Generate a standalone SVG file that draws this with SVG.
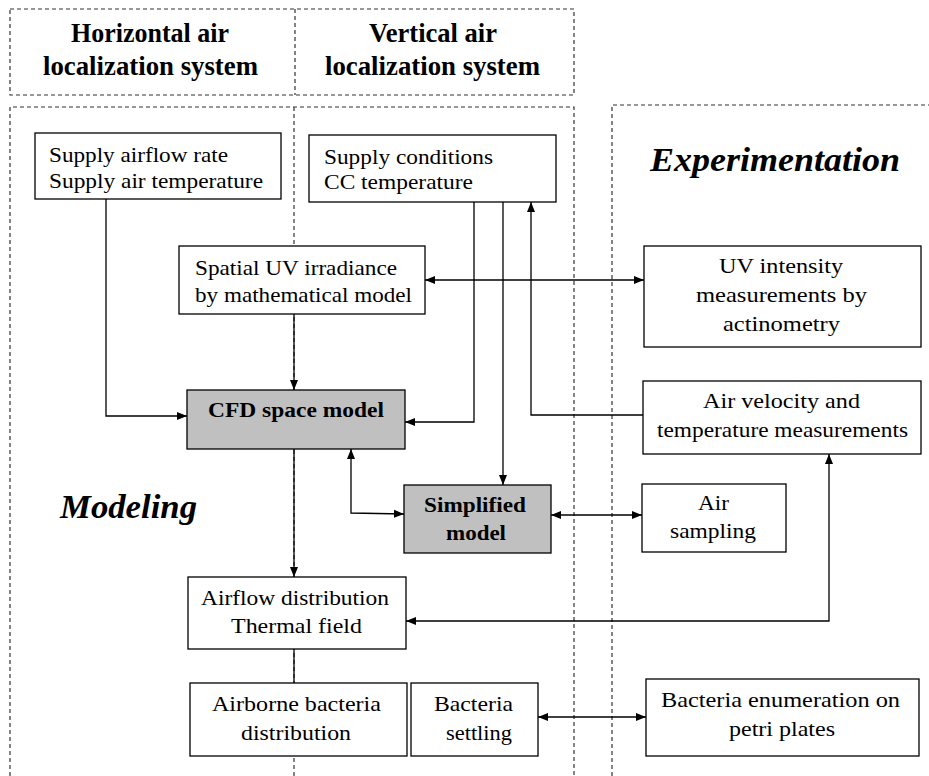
<svg xmlns="http://www.w3.org/2000/svg" width="929" height="776" viewBox="0 0 929 776">
<style>
.dash{fill:none;stroke:#333;stroke-width:1.2;stroke-dasharray:4 3}
.box{fill:#fff;stroke:#000;stroke-width:1.3}
.gbox{fill:#c0c0c0;stroke:#000;stroke-width:1.3}
.t{font-family:"Liberation Serif","Times New Roman",serif;font-size:21px;fill:#000}
.b{font-weight:bold}
.h{font-family:"Liberation Serif","Times New Roman",serif;font-size:28px;font-weight:bold;fill:#000}
.big{font-family:"Liberation Serif","Times New Roman",serif;font-size:33px;font-weight:bold;font-style:italic;fill:#000}
.ln{fill:none;stroke:#000;stroke-width:1.3}
</style>
<defs>
<marker id="ah" viewBox="0 0 10 10" refX="10" refY="5" markerWidth="10" markerHeight="10" markerUnits="userSpaceOnUse" orient="auto-start-reverse">
<path d="M0,1 L10,5 L0,9 Z" fill="#000"/>
</marker>
</defs>
<rect width="929" height="776" fill="#fff"/>
<g id="regions">
<rect class="dash" x="10" y="9" width="564" height="86"/>
<line class="dash" x1="295" y1="9" x2="295" y2="95"/>
<path class="dash" d="M10,776 V107 H574 V776"/>
<line class="dash" x1="294" y1="107" x2="294" y2="776"/>
<path class="dash" d="M612,776 V105 H929"/>
</g>
<g id="labels">
<text class="h" x="71" y="42" textLength="158" lengthAdjust="spacingAndGlyphs">Horizontal air</text>
<text class="h" x="43" y="75" textLength="215" lengthAdjust="spacingAndGlyphs">localization system</text>
<text class="h" x="369" y="42" textLength="128" lengthAdjust="spacingAndGlyphs">Vertical air</text>
<text class="h" x="325" y="75" textLength="215" lengthAdjust="spacingAndGlyphs">localization system</text>
<text class="big" x="60" y="518" textLength="137" lengthAdjust="spacingAndGlyphs">Modeling</text>
<text class="big" x="650" y="171" textLength="250" lengthAdjust="spacingAndGlyphs">Experimentation</text>
</g>
<g id="connectors">
<polyline class="ln" points="106,199 106,416 187,416" marker-end="url(#ah)"/>
<line class="ln" x1="294" y1="314" x2="294" y2="390" marker-end="url(#ah)"/>
<polyline class="ln" points="474,202 474,422 405,422" marker-end="url(#ah)"/>
<line class="ln" x1="503" y1="202" x2="503" y2="485" marker-end="url(#ah)"/>
<polyline class="ln" points="643,415 531,415 531,202" marker-end="url(#ah)"/>
<line class="ln" x1="425" y1="280" x2="644" y2="280" marker-start="url(#ah)" marker-end="url(#ah)"/>
<polyline class="ln" points="351,449 351,513 404,514" marker-start="url(#ah)" marker-end="url(#ah)"/>
<line class="ln" x1="551" y1="515" x2="642" y2="515" marker-start="url(#ah)" marker-end="url(#ah)"/>
<line class="ln" x1="294" y1="449" x2="294" y2="577" marker-end="url(#ah)"/>
<polyline class="ln" points="829,454 829,621 406,621" marker-start="url(#ah)" marker-end="url(#ah)"/>
<line class="ln" x1="294" y1="649" x2="294" y2="683"/>
<line class="ln" x1="538" y1="717" x2="646" y2="717" marker-start="url(#ah)" marker-end="url(#ah)"/>
</g>
<g id="supply-airflow">
<rect class="box" x="35" y="133" width="246" height="66"/>
<text class="t" x="49" y="162" textLength="179" lengthAdjust="spacingAndGlyphs">Supply airflow rate</text>
<text class="t" x="49" y="188" textLength="214" lengthAdjust="spacingAndGlyphs">Supply air temperature</text>
</g>
<g id="supply-conditions">
<rect class="box" x="309" y="135" width="247" height="67"/>
<text class="t" x="324" y="164" textLength="169" lengthAdjust="spacingAndGlyphs">Supply conditions</text>
<text class="t" x="324" y="189" textLength="149" lengthAdjust="spacingAndGlyphs">CC temperature</text>
</g>
<g id="spatial-uv">
<rect class="box" x="179" y="246" width="246" height="68"/>
<text class="t" x="195" y="275" textLength="202" lengthAdjust="spacingAndGlyphs">Spatial UV irradiance</text>
<text class="t" x="195" y="302" textLength="217" lengthAdjust="spacingAndGlyphs">by mathematical model</text>
</g>
<g id="uv-intensity">
<rect class="box" x="644" y="246" width="277" height="101"/>
<text class="t" x="719" y="273" textLength="124" lengthAdjust="spacingAndGlyphs">UV intensity</text>
<text class="t" x="696" y="302" textLength="171" lengthAdjust="spacingAndGlyphs">measurements by</text>
<text class="t" x="723" y="331" textLength="117" lengthAdjust="spacingAndGlyphs">actinometry</text>
</g>
<g id="air-velocity">
<rect class="box" x="643" y="381" width="278" height="73"/>
<text class="t" x="703" y="408" textLength="157" lengthAdjust="spacingAndGlyphs">Air velocity and</text>
<text class="t" x="657" y="437" textLength="251" lengthAdjust="spacingAndGlyphs">temperature measurements</text>
</g>
<g id="cfd">
<rect class="gbox" x="187" y="390" width="218" height="59"/>
<text class="t b" x="208" y="417" textLength="176" lengthAdjust="spacingAndGlyphs">CFD space model</text>
</g>
<g id="simplified">
<rect class="gbox" x="404" y="485" width="147" height="68"/>
<text class="t b" x="424" y="512" textLength="102" lengthAdjust="spacingAndGlyphs">Simplified</text>
<text class="t b" x="446" y="540" textLength="60" lengthAdjust="spacingAndGlyphs">model</text>
</g>
<g id="air-sampling">
<rect class="box" x="642" y="484" width="144" height="68"/>
<text class="t" x="698" y="510" textLength="31" lengthAdjust="spacingAndGlyphs">Air</text>
<text class="t" x="670" y="538" textLength="86" lengthAdjust="spacingAndGlyphs">sampling</text>
</g>
<g id="airflow-distribution">
<rect class="box" x="188" y="577" width="218" height="72"/>
<text class="t" x="201" y="605" textLength="188" lengthAdjust="spacingAndGlyphs">Airflow distribution</text>
<text class="t" x="231" y="633" textLength="131" lengthAdjust="spacingAndGlyphs">Thermal field</text>
</g>
<g id="airborne-bacteria">
<rect class="box" x="190" y="683" width="217" height="73"/>
<text class="t" x="212" y="711" textLength="169" lengthAdjust="spacingAndGlyphs">Airborne bacteria</text>
<text class="t" x="241" y="740" textLength="110" lengthAdjust="spacingAndGlyphs">distribution</text>
</g>
<g id="bacteria-settling">
<rect class="box" x="411" y="683" width="127" height="73"/>
<text class="t" x="434" y="711" textLength="79" lengthAdjust="spacingAndGlyphs">Bacteria</text>
<text class="t" x="446" y="740" textLength="66" lengthAdjust="spacingAndGlyphs">settling</text>
</g>
<g id="bacteria-enumeration">
<rect class="box" x="646" y="679" width="273" height="77"/>
<text class="t" x="661" y="707" textLength="239" lengthAdjust="spacingAndGlyphs">Bacteria enumeration on</text>
<text class="t" x="729" y="736" textLength="106" lengthAdjust="spacingAndGlyphs">petri plates</text>
</g>
</svg>
